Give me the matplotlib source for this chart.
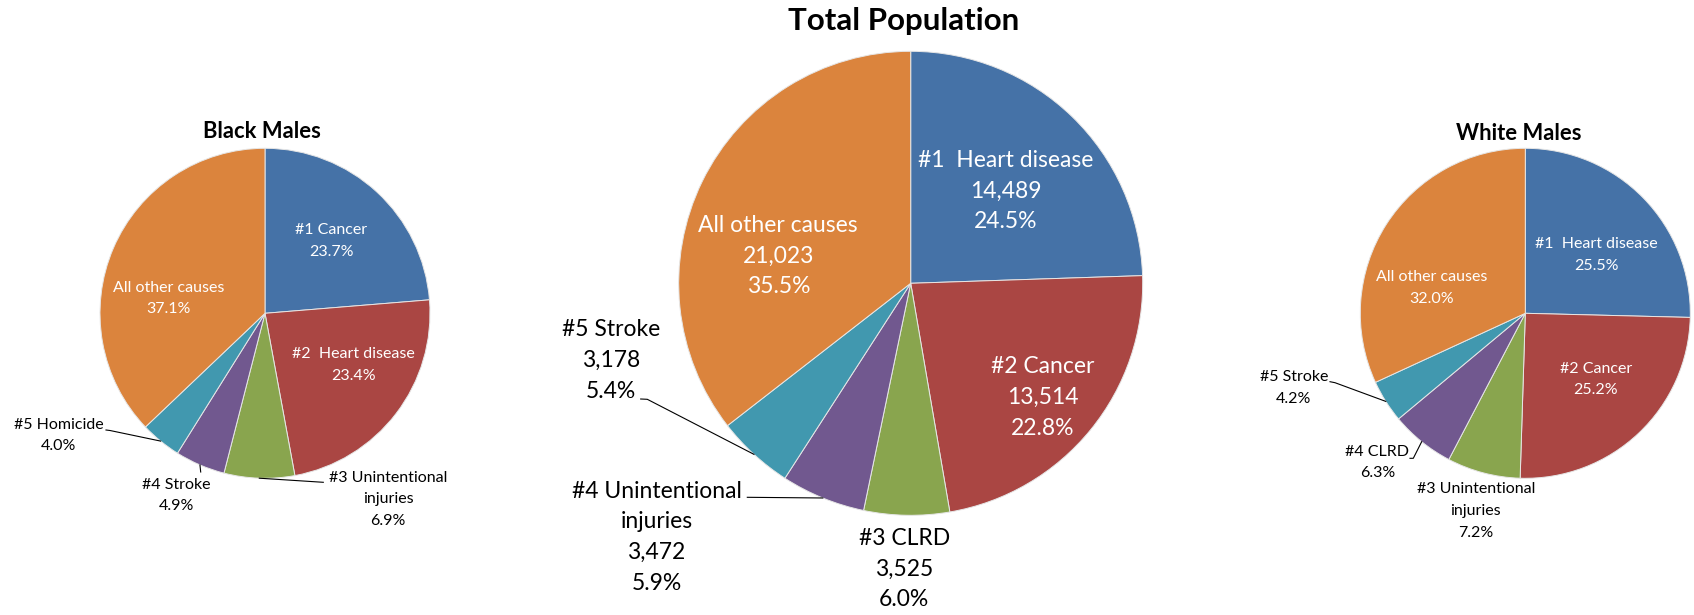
import numpy as np
import matplotlib.pyplot as plt

plt.rcParams['font.family'] = ['Lato', 'DejaVu Sans']

W, H = 1694, 615

# slice colours (Excel 2007 palette)
colors = ['#4572A7', '#AA4643', '#89A54E', '#71588F', '#4198AF', '#DB843D']

# ---- data ----
black_causes = ['#1 Cancer', '#2  Heart disease', '#3 Unintentional\ninjuries',
                '#4 Stroke', '#5 Homicide', 'All other causes']
black_pct = [23.7, 23.4, 6.9, 4.9, 4.0, 37.1]

total_causes = ['#1  Heart disease', '#2 Cancer', '#3 CLRD',
                '#4 Unintentional\ninjuries', '#5 Stroke', 'All other causes']
total_deaths = [14489, 13514, 3525, 3472, 3178, 21023]

white_causes = ['#1  Heart disease', '#2 Cancer', '#3 Unintentional\ninjuries',
                '#4 CLRD', '#5 Stroke', 'All other causes']
white_pct = [25.5, 25.2, 7.2, 6.3, 4.2, 32.0]

total_pct = [100.0 * v / sum(total_deaths) for v in total_deaths]

black_text = [f'{c}\n{p:.1f}%' for c, p in zip(black_causes, black_pct)]
white_text = [f'{c}\n{p:.1f}%' for c, p in zip(white_causes, white_pct)]
total_text = [f'{c}\n{v:,}\n{p:.1f}%' for c, v, p in zip(total_causes, total_deaths, total_pct)]

# ---- layout (pixels, y measured from top) ----
inside = [True, True, False, False, False, True]

pies = [
    dict(title='Black Males', values=black_pct, text=black_text,
         center=(265, 313.3), r=165, title_xy=(261.7, 131.7), title_size=15.8,
         size=11.5, step=21.5,
         label_xy=[(331.3, 241.2), (353.5, 364.8), (388, 499.3),
                   (176.3, 495.5), (58.5, 435.3), (168.5, 298.5)],
         leaders={2: [(323.3, 482.3)], 3: [(200.7, 472)], 4: [(106, 430), (110, 430.5)]}),
    dict(title='Total Population', values=total_deaths, text=total_text,
         center=(910.7, 283.3), r=232, title_xy=(903.8, 21), title_size=22.5,
         size=16.5, step=30.8,
         label_xy=[(1006, 191), (1042.5, 397.3), (904.2, 569.2),
                   (656.5, 537.3), (610.8, 360.3), (778.3, 256)],
         leaders={3: [(747.3, 497.3)], 4: [(640.7, 399), (647.3, 399.3)]}),
    dict(title='White Males', values=white_pct, text=white_text,
         center=(1525.3, 313.3), r=165, title_xy=(1518.3, 133.3), title_size=15.8,
         size=11.5, step=21.7,
         label_xy=[(1596.3, 255), (1595.7, 379.5), (1475.8, 511),
                   (1377.3, 462.5), (1293.8, 387.8), (1431.7, 287.7)],
         leaders={3: [(1410, 458.3), (1413.3, 458.3)], 4: [(1330, 381.7), (1335, 382.7)]}),
]

fig = plt.figure(figsize=(W / 100, H / 100), dpi=100)
ax = fig.add_axes([0, 0, 1, 1])

for p in pies:
    cx, cy = p['center']
    wedges, _ = ax.pie(p['values'], colors=colors, startangle=90, counterclock=False,
                       center=(cx, H - cy), radius=p['r'],
                       wedgeprops=dict(edgecolor='#e6e6e6', linewidth=0.7))
    ax.text(p['title_xy'][0], H - p['title_xy'][1], p['title'], ha='center', va='center',
            fontsize=p['title_size'], fontweight='bold', color='black')

    for i, (txt, (tx, ty)) in enumerate(zip(p['text'], p['label_xy'])):
        lines = txt.split('\n')
        n = len(lines)
        col = 'white' if inside[i] else 'black'
        for k, line in enumerate(lines):
            yy = ty + (k - (n - 1) / 2) * p['step']
            ax.text(tx, H - yy, line, ha='center', va='center',
                    fontsize=p['size'], color=col)

    # leader lines: from the label to the rim at the wedge's mid angle
    for i, pts in p['leaders'].items():
        w = wedges[i]
        mid = np.deg2rad((w.theta1 + w.theta2) / 2)
        rim = (cx + p['r'] * np.cos(mid), H - cy + p['r'] * np.sin(mid))
        xs = [q[0] for q in pts] + [rim[0]]
        ys = [H - q[1] for q in pts] + [rim[1]]
        ax.plot(xs, ys, color='black', linewidth=0.8)

ax.set_xlim(0, W)
ax.set_ylim(0, H)
ax.set_aspect('equal')
ax.axis('off')

fig.savefig('out.png', dpi=100)
